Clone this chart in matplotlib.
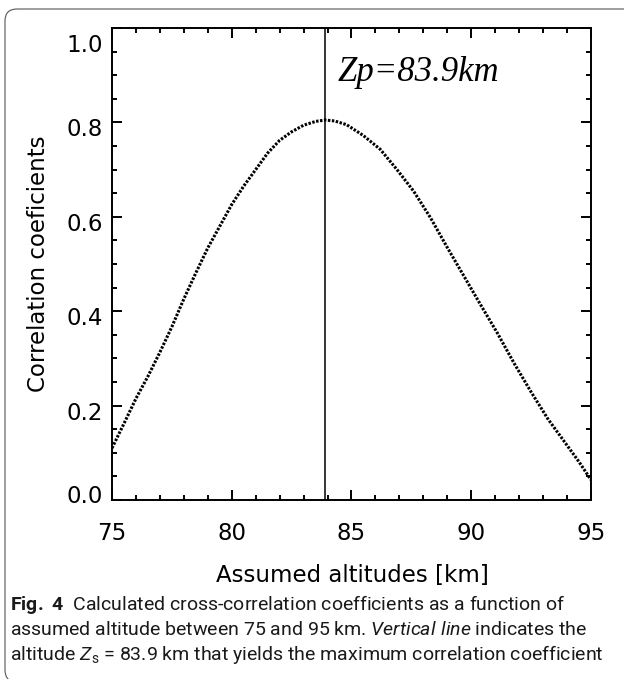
import matplotlib
matplotlib.use("Agg")
import matplotlib.pyplot as plt
import matplotlib.transforms as mtransforms
from matplotlib.patches import FancyBboxPatch
from matplotlib.ticker import MultipleLocator

# ── Datos ───────────────────────────────────────────────────────────────────
altitude = [75.0, 75.5, 76.0, 76.5, 77.0, 77.5, 78.0, 78.5, 79.0, 79.5,
            80.0, 80.5, 81.0, 81.5, 82.0, 82.5, 83.0, 83.5, 83.9, 84.3,
            84.8, 85.5, 86.2, 86.9, 87.6, 88.3, 89.0, 89.7, 90.4, 91.1,
            91.8, 92.5, 93.2, 93.8, 94.5, 95.0]
corr = [0.110, 0.162, 0.215, 0.262, 0.313, 0.367, 0.426, 0.481, 0.534, 0.580,
        0.626, 0.665, 0.700, 0.735, 0.762, 0.780, 0.794, 0.802, 0.805, 0.803,
        0.795, 0.772, 0.743, 0.700, 0.654, 0.598, 0.535, 0.474, 0.413, 0.353,
        0.289, 0.229, 0.172, 0.130, 0.081, 0.043]
z_peak = 83.9
x_ticks = [75, 80, 85, 90, 95]
y_ticks = [0.0, 0.2, 0.4, 0.6, 0.8, 1.0]

plt.rcParams['mathtext.fontset'] = 'custom'
plt.rcParams['mathtext.rm'] = 'Roboto'
plt.rcParams['mathtext.it'] = 'Roboto:italic'
plt.rcParams['mathtext.bf'] = 'Roboto:bold'

fig = plt.figure(figsize=(6.24, 6.79), dpi=100, facecolor='white')
ax = fig.add_axes([0.1795, 0.2636, 0.7675, 0.6952])

# curva punteada + línea vertical
ax.plot(altitude, corr, color='black', lw=2.2, ls=(0, (0.8, 0.5)))
ax.axvline(z_peak, color='black', lw=1.1)
ax.text(84.44, 0.905, 'Zp=83.9km', fontsize=25, family='Liberation Serif',
        style='italic', ha='left', va='center')

ax.set_xlim(75, 95)
ax.set_ylim(0, 1.0)
ax.set_xticks(x_ticks)
ax.set_yticks(y_ticks)
ax.set_xticklabels([str(v) for v in x_ticks])
ax.set_yticklabels([f'{v:.1f}' for v in y_ticks])
ax.xaxis.set_minor_locator(MultipleLocator(1))
ax.yaxis.set_minor_locator(MultipleLocator(0.05))

for s in ax.spines.values():
    s.set_linewidth(1.4)
ax.tick_params(which='both', direction='in', top=True, right=True, width=1.4)
ax.tick_params(which='major', length=7.2)
ax.tick_params(which='minor', length=3.8)
ax.tick_params(axis='x', which='major', labelsize=16.5, pad=16)
ax.tick_params(axis='y', which='major', labelsize=16.5, pad=6.5)

# desplazamiento tipo IDL de las etiquetas del eje y
y_shift = {0.0: 6, 1.0: -15}
for lab, v in zip(ax.get_yticklabels(), y_ticks):
    dy = y_shift.get(v, -5) / 100.0
    lab.set_transform(lab.get_transform() +
                      mtransforms.ScaledTranslation(0, dy, fig.dpi_scale_trans))

fig.text(0.0625, 0.611, 'Correlation coeficients', rotation=90, fontsize=16.5,
         ha='center', va='center')
fig.text(0.565, 0.153, 'Assumed altitudes [km]', fontsize=16.5,
         ha='center', va='center')

# pie de figura
cap_kw = dict(fontsize=14, family='Roboto', color='#1a1a1a', ha='left', va='center')
fig.text(0.016, 1 - 605 / 679,
         r'$\mathbf{Fig.\ 4}$  Calculated cross-correlation coefficients as a function of',
         **cap_kw)
fig.text(0.016, 1 - 630 / 679,
         r'assumed altitude between 75 and 95 km. $\mathit{Vertical\ line}$ indicates the',
         **cap_kw)
fig.text(0.016, 1 - 655 / 679,
         r'altitude $Z_{\mathrm{s}}$ = 83.9 km that yields the maximum correlation coefficient',
         **cap_kw)

# marco redondeado
frame = FancyBboxPatch((0.05, -0.03), 6.4, 6.73,
                       boxstyle='round,pad=0,rounding_size=0.12',
                       transform=fig.dpi_scale_trans, facecolor='none',
                       edgecolor='#555555', lw=0.8, clip_on=False)
fig.patches.append(frame)

fig.savefig('out.png', dpi=100)
